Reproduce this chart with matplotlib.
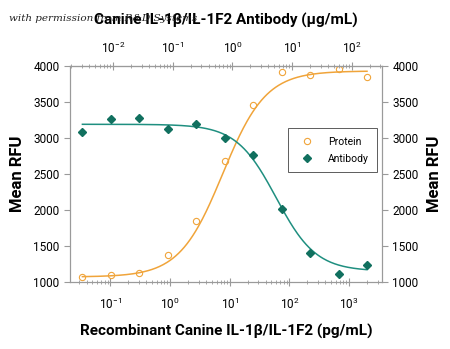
import numpy as np
import matplotlib.pyplot as plt

# recombinant canine IL-1b/IL-1F2 concentration (pg/mL), 3-fold dilutions
conc = [0.0339, 0.102, 0.305, 0.914, 2.74, 8.23, 24.7, 74, 222, 667, 2000]
protein = [1075, 1100, 1130, 1370, 1850, 2680, 3460, 3920, 3880, 3960, 3840]
antibody = [3085, 3265, 3280, 3125, 3195, 3000, 2765, 2015, 1405, 1110, 1235]

# 4PL fit parameters (bottom, top, ec50, hill)
protein_fit = (1070, 3930, 7.6, 1.2)
antibody_fit = (1150, 3190, 60, -1.3)

top_factor = 0.09  # bottom axis pg/mL -> top axis ug/mL

orange = '#f0a43a'
teal = '#11705f'
teal_line = '#1f8f80'
grey = '#9a9a9a'

plt.rcParams['font.family'] = ['Roboto', 'DejaVu Sans']
plt.rcParams['mathtext.default'] = 'regular'


def fourpl(x, bottom, top, ec50, hill):
    return bottom + (top - bottom) / (1 + (ec50 / x) ** hill)


fig = plt.figure(figsize=(4.5, 3.49), dpi=100)
ax = fig.add_axes([0.1556, 0.192, 0.693, 0.619])

xs = np.logspace(np.log10(conc[0]), np.log10(conc[-1]), 300)
ax.plot(xs, fourpl(xs, *protein_fit), color=orange, lw=1.1)
ax.plot(xs, fourpl(xs, *antibody_fit), color=teal_line, lw=1.1)
ax.plot(conc, protein, 'o', mfc='none', mec=orange, ms=4.5, mew=0.8, label='Protein')
ax.plot(conc, antibody, 'D', color=teal, ms=4, label='Antibody')

ax.set_xscale('log')
ax.set_xlim(0.021, 3550)
ax.set_ylim(1000, 4000)
ax.set_yticks([1000, 1500, 2000, 2500, 3000, 3500, 4000])

for s in ax.spines.values():
    s.set_color(grey)
ax.tick_params(axis='x', which='both', direction='inout', color=grey, labelsize=8.5)
ax.tick_params(axis='x', which='major', length=6, pad=8)
ax.tick_params(axis='x', which='minor', length=3)
ax.tick_params(axis='y', color=grey, length=4, labelsize=8.5)

ax.set_ylabel('Mean RFU', fontsize=12, fontweight='bold', labelpad=6)
ax.set_xlabel('Recombinant Canine IL-1β/IL-1F2 (pg/mL)', fontsize=11,
              fontweight='bold', labelpad=8)

ax2 = ax.twinx()
ax2.set_ylim(1000, 4000)
ax2.set_yticks([1000, 1500, 2000, 2500, 3000, 3500, 4000])
ax2.tick_params(axis='y', color=grey, length=4, labelsize=8.5)
ax2.set_ylabel('Mean RFU', fontsize=12, fontweight='bold', labelpad=6)
for s in ax2.spines.values():
    s.set_color(grey)

top = ax.secondary_xaxis('top', functions=(lambda x: x * top_factor, lambda x: x / top_factor))
top.tick_params(which='both', direction='inout', color=grey, labelsize=8.5)
top.tick_params(which='major', length=6, pad=4)
top.tick_params(which='minor', length=3)
top.spines['top'].set_color(grey)
top.set_xlabel('Canine IL-1β/IL-1F2 Antibody (μg/mL)', fontsize=11,
               fontweight='bold', labelpad=12)

leg = ax.legend(loc='upper left', bbox_to_anchor=(0.683, 0.735), fontsize=7.5,
                frameon=True, fancybox=False, edgecolor='#333333',
                handletextpad=1.0, borderpad=0.8, labelspacing=0.7)
leg.get_frame().set_linewidth(0.7)

fig.text(0.02, 0.94, 'with permission from R&D Systems', fontsize=7.5,
         family='DejaVu Serif', style='italic', color='#222222')

fig.savefig('out.png', dpi=100)
